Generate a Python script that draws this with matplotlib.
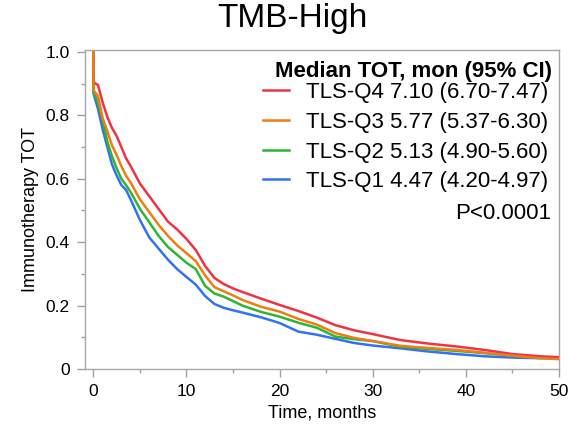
import matplotlib
matplotlib.use("Agg")
import matplotlib.pyplot as plt
from matplotlib.ticker import MultipleLocator

plt.rcParams["font.family"] = ["Liberation Sans", "DejaVu Sans"]

# time on treatment, months
months = [0, 0, 0.5, 1, 1.5, 2, 2.5, 3, 3.5, 4, 5, 6, 7, 8, 9, 10, 11, 12, 13, 14,
          15, 16, 18, 20, 22, 24, 26, 28, 30, 33, 36, 39, 42, 45, 48, 50]

tls_q4 = [1.0, 0.905, 0.895, 0.84, 0.795, 0.76, 0.735, 0.70, 0.665, 0.64, 0.585,
          0.545, 0.505, 0.465, 0.44, 0.41, 0.375, 0.325, 0.287, 0.268, 0.254,
          0.243, 0.222, 0.202, 0.183, 0.162, 0.138, 0.122, 0.11, 0.091, 0.08,
          0.071, 0.06, 0.047, 0.04, 0.037]
tls_q3 = [1.0, 0.88, 0.86, 0.79, 0.75, 0.705, 0.675, 0.64, 0.61, 0.588, 0.535,
          0.495, 0.455, 0.42, 0.39, 0.365, 0.34, 0.295, 0.258, 0.245, 0.232,
          0.218, 0.196, 0.181, 0.158, 0.14, 0.113, 0.098, 0.088, 0.073, 0.066,
          0.06, 0.051, 0.042, 0.034, 0.031]
tls_q2 = [1.0, 0.875, 0.84, 0.785, 0.717, 0.67, 0.633, 0.60, 0.58, 0.558, 0.505,
          0.463, 0.42, 0.385, 0.36, 0.335, 0.315, 0.262, 0.238, 0.228, 0.214,
          0.2, 0.18, 0.165, 0.146, 0.13, 0.102, 0.094, 0.088, 0.07, 0.063,
          0.057, 0.05, 0.042, 0.036, 0.033]
tls_q1 = [1.0, 0.87, 0.82, 0.755, 0.70, 0.645, 0.61, 0.58, 0.565, 0.535, 0.47,
          0.415, 0.38, 0.345, 0.315, 0.29, 0.266, 0.23, 0.205, 0.193, 0.185,
          0.178, 0.163, 0.145, 0.118, 0.108, 0.095, 0.082, 0.074, 0.065, 0.055,
          0.047, 0.04, 0.036, 0.034, 0.033]

labels = ["TLS-Q4 7.10 (6.70-7.47)", "TLS-Q3 5.77 (5.37-6.30)",
          "TLS-Q2 5.13 (4.90-5.60)", "TLS-Q1 4.47 (4.20-4.97)"]
colors = ["#EE3347", "#EE7D12", "#2DB534", "#3271F4"]

fig = plt.figure(figsize=(5.77, 4.28), dpi=100)
ax = fig.add_axes([0.1473, 0.1379, 0.8215, 0.7453])

series = [tls_q4, tls_q3, tls_q2, tls_q1]
handles = [None] * 4
for i in [3, 2, 0, 1]:
    handles[i], = ax.plot(months, series[i], color=colors[i], lw=1.8,
                          solid_joinstyle="miter")

ax.set_xlim(-0.9, 50)
ax.set_ylim(0, 1.006)
ax.xaxis.set_major_locator(MultipleLocator(10))
ax.xaxis.set_minor_locator(MultipleLocator(5))
ax.yaxis.set_minor_locator(MultipleLocator(0.1))
ax.set_yticks([0, 0.2, 0.4, 0.6, 0.8, 1.0])
ax.set_yticklabels(["0", "0.2", "0.4", "0.6", "0.8", "1.0"])

for s in ax.spines.values():
    s.set_color("#A8A8A8")
    s.set_linewidth(1.0)
ax.tick_params(which="major", direction="out", length=6, width=1.0,
               color="#A0A0A0", labelsize=12.5, pad=5)
ax.tick_params(which="minor", direction="out", length=2.8, width=1.0,
               color="#A0A0A0")

ax.set_xlabel("Time, months", fontsize=13, labelpad=4)
ax.set_ylabel("Immunotherapy TOT", fontsize=13, labelpad=5)
fig.text(0.506, 0.937, "TMB-High", fontsize=24, ha="center", va="baseline")

# legend header and p-value as plain text around the legend entries
ax.text(0.9846, 0.932, "Median TOT, mon (95% CI)", transform=ax.transAxes,
        fontsize=16, fontweight="bold", ha="right", va="center")
ax.legend(handles, labels, loc="upper right", frameon=False,
          bbox_to_anchor=(0.977, 0.899), borderaxespad=0, borderpad=0,
          fontsize=16, handlelength=1.2, handletextpad=0.75,
          labelspacing=0.39)
ax.text(0.983, 0.487, "P<0.0001", transform=ax.transAxes, fontsize=16,
        ha="right", va="center")

fig.savefig("out.png", dpi=100)
